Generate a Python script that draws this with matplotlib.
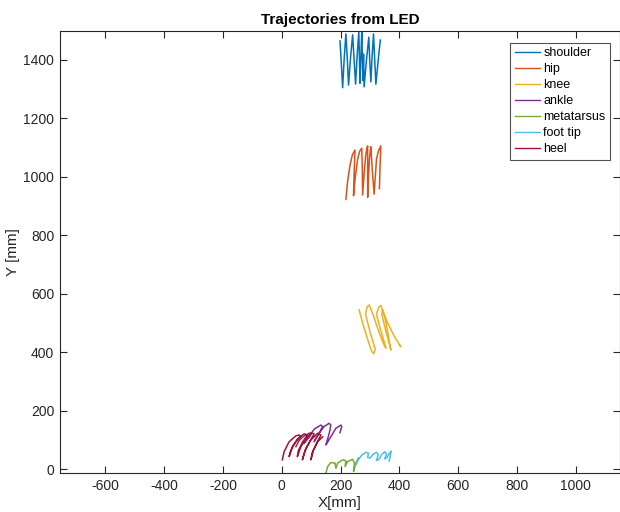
import matplotlib
matplotlib.use("Agg")
import matplotlib.pyplot as plt

plt.rcParams['font.family'] = ['Liberation Sans', 'DejaVu Sans']
plt.rcParams['axes.unicode_minus'] = False

# LED marker trajectories in the sagittal plane [mm]
shoulder_x = [198, 203, 207, 212, 218, 223, 227, 234, 241, 246, 251, 256, 262, 264, 266, 269,
              272, 274, 276, 278, 280, 288, 296, 299, 303, 307, 312, 316, 320, 327, 335]
shoulder_y = [1465, 1380, 1305, 1400, 1489, 1400, 1314, 1410, 1486, 1400, 1317, 1410, 1498, 1410, 1320, 1410,
              1495, 1410, 1330, 1420, 1308, 1400, 1478, 1400, 1325, 1410, 1489, 1400, 1317, 1390, 1468]

hip_x = [218, 224, 232, 240, 249, 246, 244, 250, 258, 265, 272, 274, 275, 280, 285, 289, 292, 292, 292,
         295, 298, 301, 303, 308, 314, 318, 322, 329, 337, 334, 332]
hip_y = [923, 985, 1040, 1075, 1092, 1010, 935, 1000, 1060, 1088, 1098, 1020, 938, 1010, 1070, 1095, 1106, 1020, 930,
         1000, 1060, 1090, 1103, 1020, 941, 1000, 1060, 1090, 1106, 1030, 960]

knee_x = [263, 275, 290, 305, 312, 318, 300, 285, 290, 297, 310, 330, 348, 354, 350, 335, 322,
          330, 337, 350, 362, 371, 368, 352, 340, 343, 360, 385, 405, 400]
knee_y = [545, 500, 450, 405, 395, 410, 470, 530, 555, 562, 530, 470, 425, 414, 430, 480, 530,
          555, 560, 520, 460, 408, 420, 480, 530, 545, 500, 450, 419, 425]

ankle_x = [48, 59, 76, 93, 101, 92, 80, 76, 93, 110, 133, 139, 128, 114, 110, 127, 144, 161, 167,
           162, 155, 150, 167, 184, 201, 204, 198]
ankle_y = [77, 98, 114, 123, 121, 108, 95, 89, 111, 137, 151, 146, 125, 102, 94, 123, 146, 157, 151,
           125, 100, 83, 111, 140, 151, 146, 125]

metatarsus_x = [150, 156, 167, 181, 184, 190, 207, 218, 215, 224, 241, 247, 244, 252, 260]
metatarsus_y = [-14, 9, 23, 21, 3, 21, 32, 29, 9, 26, 34, 21, -8, 21, 38]

foot_tip_x = [252, 260, 272, 286, 295, 292, 300, 312, 322, 328, 322, 330, 340, 350, 356,
              350, 358, 366, 372, 368, 365]
foot_tip_y = [15, 32, 48, 58, 55, 40, 38, 52, 58, 50, 30, 33, 50, 60, 52,
              35, 40, 55, 62, 40, 28]

heel_x = [2, 8, 25, 48, 59, 65, 45, 30, 25, 36, 53, 76, 87, 70, 56, 53, 65, 82, 99, 110,
          95, 78, 70, 82, 99, 122, 133, 118, 103, 99, 108, 122, 139]
heel_y = [32, 60, 94, 114, 117, 112, 90, 62, 43, 77, 103, 121, 117, 92, 62, 43, 77, 103, 125, 121,
          95, 60, 32, 72, 100, 123, 117, 88, 55, 32, 66, 94, 111]

series = [
    ("shoulder", shoulder_x, shoulder_y, "#0072BD"),
    ("hip", hip_x, hip_y, "#D95319"),
    ("knee", knee_x, knee_y, "#EDB120"),
    ("ankle", ankle_x, ankle_y, "#7E2F8E"),
    ("metatarsus", metatarsus_x, metatarsus_y, "#77AC30"),
    ("foot tip", foot_tip_x, foot_tip_y, "#4DBEEE"),
    ("heel", heel_x, heel_y, "#A2142F"),
]

x_ticks = [-600, -400, -200, 0, 200, 400, 600, 800, 1000]
y_ticks = [0, 200, 400, 600, 800, 1000, 1200, 1400]

fig = plt.figure(figsize=(6.2, 5.12), dpi=100)
ax = fig.add_axes([59.7 / 620, (512 - 473.3) / 512, (620 - 59.7) / 620, (473.3 - 31) / 512])

for name, xs, ys, color in series:
    ax.plot(xs, ys, color=color, lw=1.1, label=name, solid_joinstyle='round')

ax.set_xlim(-755, 1150)
ax.set_ylim(-14, 1499)
ax.set_xticks(x_ticks)
ax.set_yticks(y_ticks)

axis_color = "#262626"
for sp in ax.spines.values():
    sp.set_color(axis_color)
    sp.set_linewidth(0.8)
ax.tick_params(direction='in', length=5, width=0.8, colors=axis_color, labelsize=10,
               top=True, right=True, pad=4)

ax.set_title("Trajectories from LED", fontsize=11, fontweight='bold', color='black', pad=5)
ax.set_xlabel("X[mm]", fontsize=11, color=axis_color, labelpad=2)
ax.set_ylabel("Y [mm]", fontsize=11, color=axis_color, labelpad=2)

leg = ax.legend(loc='upper right', bbox_to_anchor=(0.982, 0.973), fontsize=9,
                frameon=True, fancybox=False, borderpad=0.35, labelspacing=0.32,
                handlelength=2.0, handletextpad=0.3, borderaxespad=0)
leg.get_frame().set_edgecolor(axis_color)
leg.get_frame().set_linewidth(0.8)
for line in leg.get_lines():
    line.set_linewidth(1.0)

fig.savefig("out.png", dpi=100)
